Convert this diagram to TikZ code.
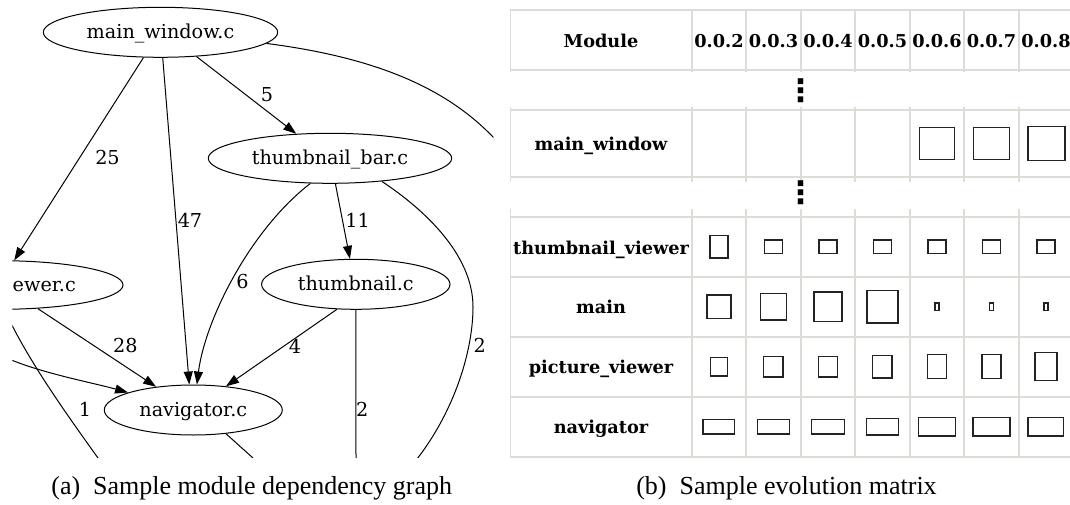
\documentclass[tikz,border=0pt]{standalone}
\usepackage{fontspec}
\setmainfont{DejaVu Serif}
\newfontfamily\capfont{Liberation Serif}
\newfontfamily\tabfont{DejaVu Serif}
\newfontfamily\dotfont{DejaVu Sans}
\usetikzlibrary{arrows.meta,shapes.geometric}
\definecolor{gridgray}{RGB}{221,221,216}
\definecolor{boxgray}{RGB}{35,35,35}
\tikzset{
  gnode/.style={ellipse, draw, line width=1pt, inner sep=0pt, text height=14pt, text depth=2pt,
    font=\fontsize{19.2}{22}\selectfont},
  gtext/.style={inner sep=0pt, text height=14pt, text depth=2pt, font=\fontsize{19.2}{22}\selectfont},
  elab/.style={inner sep=0pt, font=\fontsize{19.2}{22}\selectfont},
  gedge/.style={line width=1pt, -{Triangle[length=13pt,width=9pt]}},
  gplain/.style={line width=1pt},
  gridline/.style={draw=gridgray, line width=1.6pt},
  thead/.style={inner sep=0pt, anchor=base, font=\tabfont\bfseries\fontsize{17.7}{20}\selectfont},
  vdot/.style={inner sep=0pt, font=\dotfont\bfseries\fontsize{31}{34}\selectfont},
  cbox/.style 2 args={draw=boxgray, line width=1.4pt, inner sep=0pt, minimum width=#1, minimum height=#2},
  capt/.style={inner sep=0pt, anchor=base, font=\capfont\fontsize{26}{30}\selectfont}
}
\begin{document}
\begin{tikzpicture}[x=1pt,y=-1pt]
\useasboundingbox (0,0) rectangle (1070,505);

% ---------------- graph (a) ----------------
\begin{scope}
\clip (12.3,0) rectangle (493.5,457);
\node[gnode, minimum width=234.4pt, minimum height=50pt] (mw) at (160.5,32.3) {main\_window.c};
\node[gnode, minimum width=243.4pt, minimum height=50pt] (tb) at (330,158.3) {thumbnail\_bar.c};
\node[gnode, minimum width=246pt, minimum height=48.6pt] (pv) at (0,285) {};
\node[gtext, anchor=west] (pvl) at (12.5,285) {ewer.c};
\node[gnode, minimum width=188.4pt, minimum height=50pt] (th) at (355.8,284.3) {thumbnail.c};
\node[gnode, minimum width=178pt, minimum height=50pt] (nav) at (193.3,410) {navigator.c};

\coordinate (mwR) at (493.5,137.5);
\coordinate (tbR) at (473,307);
\coordinate (bR) at (417,459);
\coordinate (lA) at (0,355);
\coordinate (lB) at (6,313);
\coordinate (bL) at (98,458);
\coordinate (bN) at (253,458);
\coordinate (bT) at (356,458);

\draw[gedge] (mw.-124.9) -- (pv.60);
\draw[gedge] (mw.-85) -- (nav.99.1);
\draw[gedge] (mw.-34.7) -- (tb.144.2);
\draw[gplain] (mw.-6.66) .. controls (380,58) and (448,90) .. (mwR);
\draw[gedge] (tb.-78.7) -- (th.103);
\draw[gedge] (tb.-128) .. controls (250,230) and (205,320) .. (nav.82.3);
\draw[gplain] (tb.-24.5) .. controls (425,210) and (473,255) .. (tbR)
  .. controls (473,350) and (455,410) .. (bR);
\draw[gedge] (pv.-32.8) -- (nav.148.1);
\draw[gedge] (lA) .. controls (35,372) and (90,382) .. (nav.165.4);
\draw[gplain] (lB) .. controls (28,360) and (65,412) .. (bL);
\draw[gplain] (nav.-36.4) -- (bN);
\draw[gplain] (th.-90) -- (bT);
\draw[gedge] (th.-127.5) -- (nav.36.4);

\node[elab] (l25) at (107.5,157.5) {25};
\node[elab] (l47) at (190,220.5) {47};
\node[elab] (l5) at (267,94.5) {5};
\node[elab] (l11) at (357.7,220.5) {11};
\node[elab] (l6) at (242.5,282) {6};
\node[elab] (l2r) at (479.7,345.5) {2};
\node[elab] (l28) at (125.3,346) {28};
\node[elab] (l1) at (85,409.3) {1};
\node[elab] (l2m) at (362.3,409.3) {2};
\node[elab] (l4) at (295,346) {4};
\end{scope}

\node[capt] (capa) at (251.7,494) {(a)\enspace Sample module dependency graph};

% ---------------- matrix (b) ----------------
\foreach \y in {10,70,110,177.3,216.7,276.7,336.7,396.7,456.7}
  \draw[gridline] (510.4,\y) -- (1070,\y);
\foreach \x in {510.4,691.7,746.2,800.7,855.2,909.7,964.2,1018.7} {
  \draw[gridline] (\x,10) -- (\x,72);
  \draw[gridline] (\x,107.3) -- (\x,181.7);
  \draw[gridline] (\x,209.3) -- (\x,456.7);
}

\node[thead] (hmod) at (601,47.3) {Module};
\node[thead] (h2) at (718.95,47.3) {0.0.2};
\node[thead] (h3) at (773.45,47.3) {0.0.3};
\node[thead] (h4) at (827.95,47.3) {0.0.4};
\node[thead] (h5) at (882.45,47.3) {0.0.5};
\node[thead] (h6) at (936.95,47.3) {0.0.6};
\node[thead] (h7) at (991.45,47.3) {0.0.7};
\node[thead] (h8) at (1045.95,47.3) {0.0.8};

\node[vdot] (dots1) at (800.7,90.3) {⋮};
\node[vdot] (dots2) at (800.7,192.3) {⋮};

\node[thead] (rmw) at (601,151) {main\_window};
\node[thead] (rtv) at (601,254) {thumbnail\_viewer};
\node[thead] (rmain) at (601,313.7) {main};
\node[thead] (rpv) at (601,373.7) {picture\_viewer};
\node[thead] (rnav) at (601,433.5) {navigator};

% main_window row
\node[cbox={35.5pt}{32pt}] (mw6) at (936.95,143.6) {};
\node[cbox={35.5pt}{32pt}] (mw7) at (991.45,143.6) {};
\node[cbox={36.8pt}{33.8pt}] (mw8) at (1046.5,143.6) {};
% thumbnail_viewer row
\node[cbox={18.2pt}{22.2pt}] (tv2) at (718.95,246.7) {};
\node[cbox={17.8pt}{13.4pt}] (tv3) at (773.45,246.7) {};
\node[cbox={17.8pt}{13.4pt}] (tv4) at (827.95,246.7) {};
\node[cbox={17.8pt}{13.4pt}] (tv5) at (882.45,246.7) {};
\node[cbox={17.8pt}{13.4pt}] (tv6) at (936.95,246.7) {};
\node[cbox={17.8pt}{13.4pt}] (tv7) at (991.45,246.7) {};
\node[cbox={17.8pt}{13.4pt}] (tv8) at (1045.95,246.7) {};
% main row
\node[cbox={24pt}{23.6pt}] (m2) at (718.95,306.7) {};
\node[cbox={26.5pt}{26.2pt}] (m3) at (773.45,306.7) {};
\node[cbox={28.3pt}{29.2pt}] (m4) at (827.95,306.7) {};
\node[cbox={31.2pt}{32.2pt}] (m5) at (882.45,306.7) {};
\node[cbox={4.2pt}{7.2pt}] (m6) at (936.95,306.7) {};
\node[cbox={4.2pt}{7.2pt}] (m7) at (991.45,306.7) {};
\node[cbox={4.2pt}{7.2pt}] (m8) at (1045.95,306.7) {};
% picture_viewer row
\node[cbox={16.9pt}{18.2pt}] (p2) at (718.95,366.7) {};
\node[cbox={19.4pt}{20.9pt}] (p3) at (773.45,366.7) {};
\node[cbox={18.7pt}{20.9pt}] (p4) at (827.95,366.7) {};
\node[cbox={19.4pt}{22.2pt}] (p5) at (882.45,366.7) {};
\node[cbox={18.9pt}{23.9pt}] (p6) at (936.95,366.7) {};
\node[cbox={19.2pt}{23.9pt}] (p7) at (991.45,366.7) {};
\node[cbox={21.9pt}{27.9pt}] (p8) at (1045.95,366.7) {};
% navigator row
\node[cbox={31.6pt}{14.9pt}] (n2) at (718.95,426.7) {};
\node[cbox={31.6pt}{14.9pt}] (n3) at (773.45,426.7) {};
\node[cbox={33.1pt}{14.9pt}] (n4) at (827.95,426.7) {};
\node[cbox={32.4pt}{16.6pt}] (n5) at (882.45,426.7) {};
\node[cbox={37.2pt}{18.2pt}] (n6) at (936.95,426.7) {};
\node[cbox={37.2pt}{18.2pt}] (n7) at (991.45,426.7) {};
\node[cbox={35.6pt}{18.2pt}] (n8) at (1045.95,426.7) {};

\node[capt] (capb) at (786.5,494) {(b)\enspace Sample evolution matrix};
\end{tikzpicture}
\end{document}
